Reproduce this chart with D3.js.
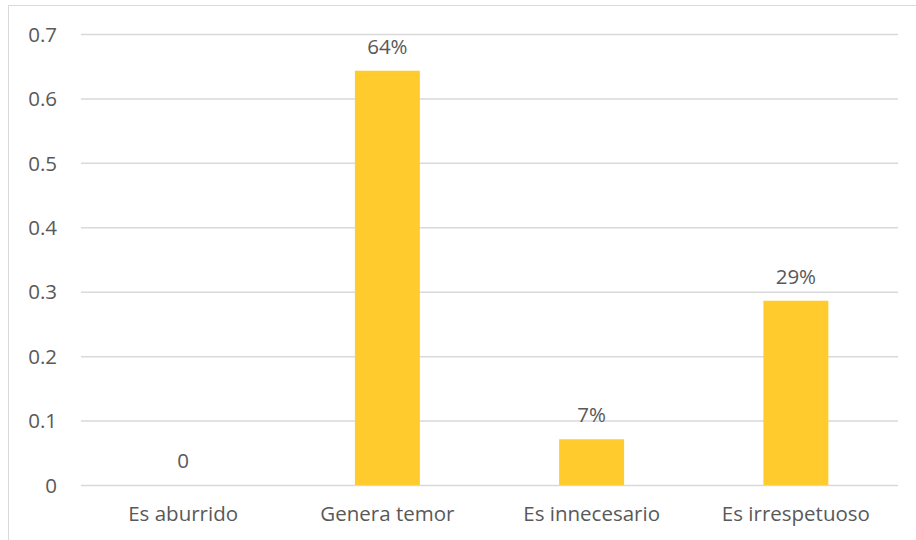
<!DOCTYPE html>
<html><head><meta charset="utf-8">
<script src="https://cdn.jsdelivr.net/npm/d3@7"></script>
<style>body{margin:0;background:#fff}svg{display:block}text{font-family:"Open Sans",sans-serif;fill:#595959}</style>
</head><body><svg id="c" width="916" height="540"></svg>
<script>
const categories = ["Es aburrido","Genera temor","Es innecesario","Es irrespetuoso"];
const values = [0, 0.643, 0.071, 0.286];
const labels = ["0","64%","7%","29%"];
const yTicks = [0,0.1,0.2,0.3,0.4,0.5,0.6,0.7];

const svg = d3.select("#c");
svg.append("rect").attr("x",8.5).attr("y",5.5).attr("width",916).attr("height",540).attr("fill","none").attr("stroke","#d9d9d9");
const m = {l:81, r:898, t:34, b:485};
const x = d3.scaleBand().domain(categories).range([m.l,m.r]).paddingInner(0.682).paddingOuter(0.341);
const y = d3.scaleLinear().domain([0,0.7]).range([m.b,m.t]);
const fs = 20.5;
const gy = svg.append("g").attr("transform",`translate(${m.l},0)`)
  .call(d3.axisLeft(y).tickValues(yTicks).tickFormat(d=>d===0?"0":d3.format(".1f")(d)).tickSize(-(m.r-m.l)).tickPadding(24));
gy.select(".domain").remove();
gy.selectAll("line").attr("stroke","#d9d9d9").attr("stroke-width",1.5);
gy.selectAll("text").attr("font-size",fs).attr("font-family","Open Sans").attr("fill","#595959").attr("dy","0.35em");

const gx = svg.append("g").attr("transform",`translate(0,${m.b})`)
  .call(d3.axisBottom(x).tickSize(0).tickPadding(21));
gx.select(".domain").remove();
gx.selectAll("text").attr("font-size",fs).attr("font-family","Open Sans").attr("fill","#595959");

svg.selectAll("rect.bar").data(values).join("rect").attr("class","bar")
  .attr("x",(d,i)=>x(categories[i])).attr("width",x.bandwidth())
  .attr("y",d=>y(d)).attr("height",d=>y(0)-y(d)).attr("fill","#FFCB2D");

svg.selectAll("text.lab").data(values).join("text").attr("class","lab")
  .attr("x",(d,i)=>x(categories[i])+x.bandwidth()/2).attr("y",d=>y(d)-17)
  .attr("text-anchor","middle").attr("font-size",fs).text((d,i)=>labels[i]);
</script></body></html>
